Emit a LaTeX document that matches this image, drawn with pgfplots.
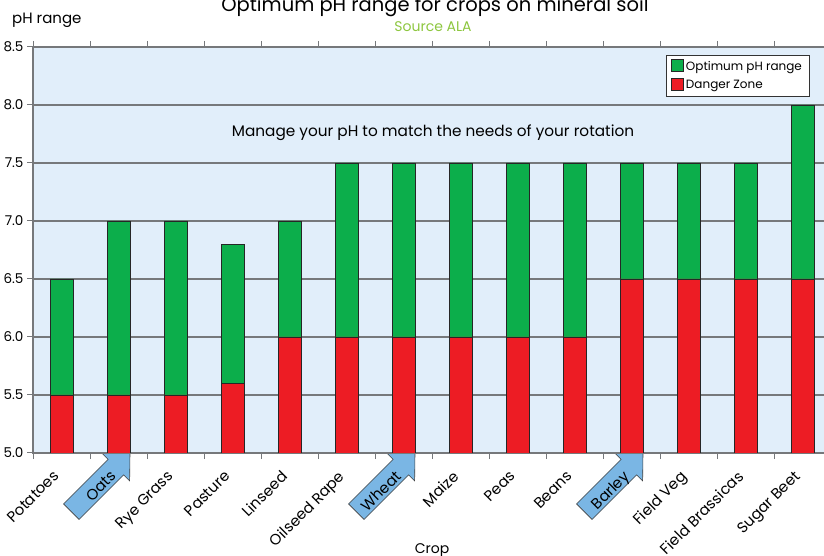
\documentclass[border=0pt]{standalone}
\usepackage{pgfplots}
\pgfplotsset{compat=1.18}
\usepackage{fontspec}
\setmainfont{Poppins}
\definecolor{bgblue}{RGB}{225,238,250}
\definecolor{barred}{RGB}{237,28,36}
\definecolor{bargreen}{RGB}{12,174,75}
\definecolor{gridgray}{RGB}{118,120,123}
\definecolor{arrowblue}{RGB}{122,182,228}
\definecolor{srcgreen}{RGB}{141,198,63}
\begin{document}
\begin{tikzpicture}[x=1pt,y=1pt]
\useasboundingbox (-33,-103) rectangle (791,453);
\clip (-33,-103) rectangle (791,453);
\foreach \t in {97,382,610}{
  \begin{scope}[shift={(\t,0)},rotate=45]
    \filldraw[fill=arrowblue,draw=black!75,line width=0.6pt]
      (0,0) -- (-20,19.5) -- (-20,11) -- (-83,11) -- (-83,-11) -- (-20,-11) -- (-20,-19.5) -- cycle;
  \end{scope}
}
\begin{axis}[
  at={(0,0)}, anchor=south west,
  scale only axis, width=798pt, height=406pt,
  xmin=-0.5, xmax=13.5, ymin=5, ymax=8.5,
  ybar stacked, bar width=23pt,
  axis background/.style={fill=bgblue},
  axis line style={draw=gridgray, line width=1.2pt},
  ytick={5,5.5,6,6.5,7,7.5,8,8.5},
  /pgf/number format/assume math mode=true,
  /pgf/number format/fixed, /pgf/number format/fixed zerofill, /pgf/number format/precision=1,
  xtick={0,...,13},
  xticklabels={Potatoes,Oats,Rye Grass,Pasture,Linseed,Oilseed Rape,Wheat,Maize,Peas,Beans,Barley,Field Veg,Field Brassicas,Sugar Beet},
  minor xtick={-0.5,0.5,...,13.5},
  major x tick style={draw=none},
  minor tick length=6pt, major tick length=6pt,
  tick align=outside,
  tick style={draw=gridgray, line width=1pt},
  xticklabel style={xshift=-9pt, yshift=-9pt, rotate=45, anchor=north east, inner sep=1pt, font=\fontsize{15}{17}\selectfont},
  yticklabel style={font=\fontsize{13.5}{15}\selectfont},
  ymajorgrids, major grid style={draw=gridgray, line width=1.3pt},
  reverse legend,
  legend style={at={(0.7932,0.9803)}, anchor=north west, draw=black!80, fill=white,
    font=\fontsize{12}{14}\selectfont, row sep=4pt, inner xsep=5pt, inner ysep=4pt},
  legend cell align=left,
  legend image code/.code={\draw[#1,line width=0.8pt] (0pt,-5pt) rectangle (12pt,7pt);},
]
\addplot[fill=barred, draw=black!85, line width=0.8pt] coordinates {
 (0,5.5) (1,5.5) (2,5.5) (3,5.6) (4,6.0) (5,6.0) (6,6.0) (7,6.0) (8,6.0) (9,6.0) (10,6.5) (11,6.5) (12,6.5) (13,6.5)};
\addlegendentry{Danger Zone}
\addplot[fill=bargreen, draw=black!85, line width=0.8pt] coordinates {
 (0,1.0) (1,1.5) (2,1.5) (3,1.2) (4,1.0) (5,1.5) (6,1.5) (7,1.5) (8,1.5) (9,1.5) (10,1.0) (11,1.0) (12,1.0) (13,1.5)};
\addlegendentry{Optimum pH range}
\end{axis}
\node[anchor=base, font=\fontsize{19.5}{22}\selectfont] at (402,441) {Optimum pH range for crops on mineral soil};
\node[anchor=base, font=\fontsize{14}{16}\selectfont, text=srcgreen] at (400,421) {Source ALA};
\node[anchor=base west, inner sep=0pt, font=\fontsize{15}{17}\selectfont] at (-21,429) {pH range};
\node[anchor=base, font=\fontsize{14}{16}\selectfont] at (399,-101) {Crop};
\node[anchor=base, font=\fontsize{15.3}{17}\selectfont] at (400,316) {Manage your pH to match the needs of your rotation};
\end{tikzpicture}
\end{document}
